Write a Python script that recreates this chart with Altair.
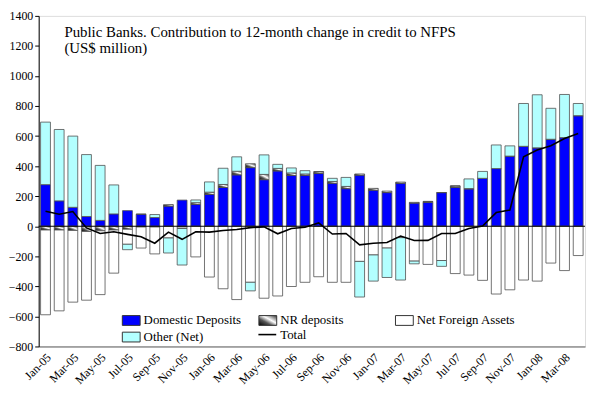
import altair as alt
import pandas as pd

months = ["Jan-05", "Feb-05", "Mar-05", "Apr-05", "May-05", "Jun-05", "Jul-05", "Aug-05",
          "Sep-05", "Oct-05", "Nov-05", "Dec-05", "Jan-06", "Feb-06", "Mar-06", "Apr-06",
          "May-06", "Jun-06", "Jul-06", "Aug-06", "Sep-06", "Oct-06", "Nov-06", "Dec-06",
          "Jan-07", "Feb-07", "Mar-07", "Apr-07", "May-07", "Jun-07", "Jul-07", "Aug-07",
          "Sep-07", "Oct-07", "Nov-07", "Dec-07", "Jan-08", "Feb-08", "Mar-08", "Apr-08"]

domestic = [277, 169, 126, 65, 39, 82, 104, 80, 58, 134, 174, 145, 212, 258, 342, 390,
            310, 368, 338, 338, 351, 286, 250, 340, 240, 224, 286, 154, 158, 224, 258, 248,
            319, 384, 467, 532, 522, 579, 590, 736]
nr_deposits = [-25, -25, -28, -35, -30, -25, -20, -5, -5, 10, -5, 12, 15, 20, 24, 26,
               35, 17, 17, 10, 12, 12, 15, 8, 12, 10, 8, 5, 7, 0, 10, 3,
               0, 0, 0, 0, 0, 0, 0, 0]
net_foreign = [-564, -538, -477, -457, -425, -287, -100, -140, -179, -78, -10, -204, -338, -416, -488, -373,
               -479, -464, -401, -373, -336, -373, -373, -234, -191, -145, -76, -232, -254, -228, -315, -325,
               -360, -451, -423, -358, -365, -245, -295, -195]
other_net = [416, 475, 474, 412, 366, 193, -36, 0, 20, -100, -243, 18, 68, 108, 96, -57,
             130, 27, 33, 22, 0, 21, 60, -237, -174, -196, -282, -18, 0, -39, 0, 64,
             46, 157, 68, 285, 353, 206, 287, 81]
total = [100, 80, 98, -11, -48, -37, -54, -70, -113, -39, -87, -37, -39, -28, -22, -9,
         -4, -50, -15, -7, 22, -52, -48, -124, -113, -108, -65, -95, -94, -48, -48, -15,
         2, 91, 108, 462, 508, 536, 584, 618]
y_ticks = [-800, -600, -400, -200, 0, 200, 400, 600, 800, 1000, 1200, 1400]

series = ["Domestic Deposits", "NR deposits", "Net Foreign Assets", "Other (Net)"]
values = [domestic, nr_deposits, net_foreign, other_net]

rows = []
for k, (name, vals) in enumerate(zip(series, values)):
    for m, v in zip(months, vals):
        rows.append({"month": m, "series": name, "value": v, "ord": k})
bars_df = pd.DataFrame(rows)
line_df = pd.DataFrame({"month": months, "total": total, "name": "Total"})

FONT = "Liberation Serif"
hatch = ("{gradient: 'linear', x1: 0, y1: 1, x2: 1, y2: 0, stops: ["
         "{offset: 0, color: '#000000'}, {offset: 0.35, color: '#555555'}, "
         "{offset: 0.6, color: '#ffffff'}, {offset: 1, color: '#333333'}]}")

x_scale = alt.Scale(paddingInner=0.28, paddingOuter=0.14)
x_axis = alt.Axis(values=months[::2], labelAngle=-45, ticks=False,
                  domainColor="#606060", labelFont=FONT, labelFontSize=12,
                  labelColor="black", title=None, labelPadding=5,
                  labelOverlap=False)
y_scale = alt.Scale(domain=[-800, 1400], nice=False, zero=False)
y_axis = alt.Axis(values=y_ticks, grid=False, domainColor="black",
                  tickColor="black", tickSize=4, labelFont=FONT, labelFontSize=12,
                  labelColor="black", title=None, labelPadding=2, format="d",
                  labelOverlap=False, labelFlush=False)

bars = alt.Chart(bars_df).mark_bar(stroke="#505050", strokeWidth=0.8).encode(
    x=alt.X("month:N", sort=months, scale=x_scale, axis=x_axis),
    y=alt.Y("value:Q", stack="zero", scale=y_scale, axis=y_axis),
    fill=alt.Fill("series:N",
                  scale=alt.Scale(domain=series,
                                  range=["#0000ff", alt.ExprRef(hatch), "#ffffff", "#b3ffff"]),
                  legend=alt.Legend(title=None, orient="none", legendX=84, legendY=298,
                                    columns=3, gridAlign="all", columnPadding=14,
                                    rowPadding=-4, direction="horizontal",
                                    symbolType="M-1,-0.55H1V0.55H-1Z", symbolSize=324,
                                    symbolStrokeColor="#333333", symbolStrokeWidth=1,
                                    labelFont=FONT, labelFontSize=13, labelColor="black",
                                    labelOffset=3)),
    order=alt.Order("ord:Q"),
)

zero = alt.Chart(pd.DataFrame({"y": [0]})).mark_rule(color="black", strokeWidth=1).encode(
    y=alt.Y("y:Q", scale=y_scale, axis=y_axis))

line = alt.Chart(line_df).mark_line(strokeWidth=1.6).encode(
    x=alt.X("month:N", sort=months, scale=x_scale, axis=x_axis),
    y=alt.Y("total:Q", scale=y_scale, axis=y_axis),
    stroke=alt.Stroke("name:N", scale=alt.Scale(domain=["Total"], range=["black"]),
                      legend=alt.Legend(title=None, orient="none", legendX=221, legendY=312,
                                        symbolType="stroke", symbolSize=324,
                                        symbolStrokeWidth=1.6, labelFont=FONT,
                                        labelFontSize=13, labelColor="black",
                                        labelOffset=3)),
)

title = alt.Chart(pd.DataFrame({"t": [0]})).mark_text(
    align="left", baseline="alphabetic", font=FONT, fontSize=15, color="black",
    lineHeight=17).encode(
    x=alt.value(26), y=alt.value(21),
    text=alt.value(["Public Banks. Contribution to 12-month change in credit to NFPS",
                    "(US$ million)"]))

chart = alt.layer(bars, zero, line, title).properties(
    width=584, height=380,
    autosize=alt.AutoSizeParams(type="fit", contains="padding"),
    padding=0,
).configure_view(stroke="#a0a0a0", strokeWidth=1).configure(background="white")

chart.save("out.html", embed_options={"renderer": "svg", "actions": False})
